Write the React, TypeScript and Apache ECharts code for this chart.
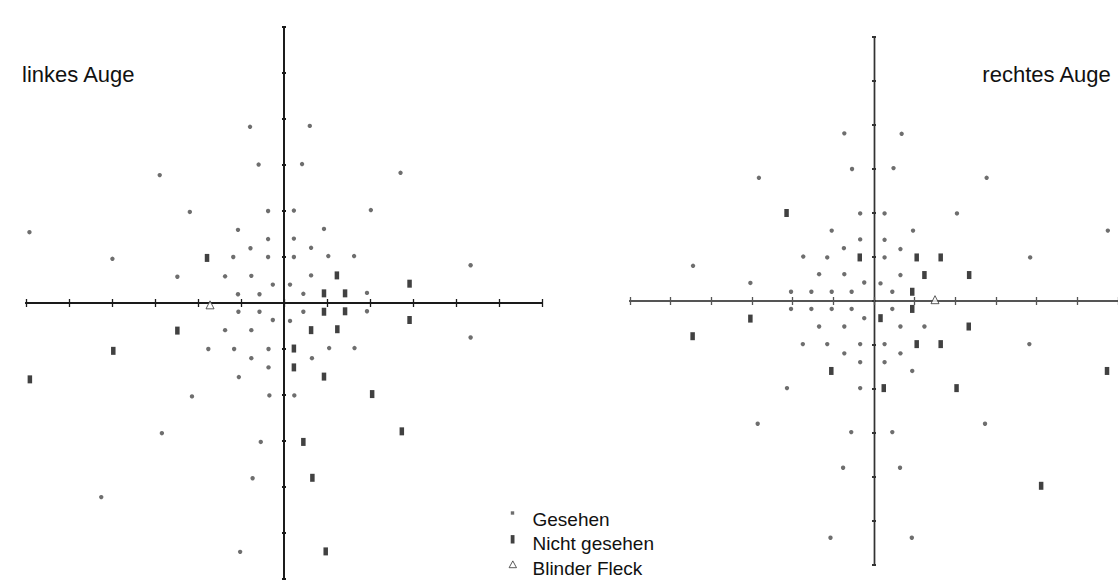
import React, { useEffect, useRef } from "react";
import * as echarts from "echarts";

// Values in degrees of visual field: [horizontal, vertical]
const leftSeen: [number, number][] = [
  [-7.9, 38.3], [6.0, 38.5], [-5.9, 30.1], [4.2, 30.2], [-28.9, 27.8], [27.1, 28.3],
  [-21.9, 19.8], [-3.7, 20.0], [2.3, 20.1], [20.2, 20.2], [-59.2, 15.4], [-10.7, 15.9],
  [9.3, 16.1], [-3.7, 13.9], [2.3, 14.0], [-7.8, 11.9], [6.3, 12.0], [-39.9, 9.6],
  [-11.8, 10.0], [-3.7, 10.0], [2.3, 10.0], [10.3, 10.2], [16.3, 10.2], [43.4, 8.2],
  [-24.8, 5.7], [-13.7, 5.8], [-7.6, 5.9], [6.3, 6.0], [-2.6, 4.0], [1.4, 4.0],
  [-10.7, 1.9], [-5.7, 1.9], [4.5, 2.0], [19.3, 2.2], [-10.6, -1.9], [-5.7, -1.9],
  [4.5, -1.9], [19.3, -1.8], [-2.6, -3.7], [1.4, -3.9], [-13.7, -5.9], [-7.6, -5.9],
  [43.4, -7.5], [-17.6, -10.0], [-11.6, -10.0], [-3.6, -10.0], [10.5, -9.8], [16.4, -9.8],
  [-7.6, -12.0], [6.5, -12.0], [-3.6, -14.0], [-10.5, -16.1], [-21.4, -20.3], [-3.4, -20.1],
  [2.4, -20.1], [-28.4, -28.3], [-5.4, -30.2], [-7.3, -38.1], [-42.5, -42.2], [-10.2, -54.1],
];
const leftNotSeen: [number, number][] = [
  [-17.9, 9.8], [12.3, 6.0], [9.3, 2.1], [14.2, 2.1], [29.2, 4.2], [9.3, -1.9],
  [14.2, -1.8], [29.2, -3.7], [-24.8, -6.0], [6.3, -5.9], [12.4, -5.7], [-39.7, -10.4],
  [2.3, -9.9], [2.3, -14.0], [9.3, -16.0], [-59.1, -16.6], [20.5, -19.8], [27.4, -27.9],
  [4.5, -30.2], [6.6, -38.0], [9.7, -54.0],
];
const leftBlindSpot: [number, number][] = [[-17.2, -0.4]];

const rightSeen: [number, number][] = [
  [-7.3, 38.1], [6.8, 38.0], [-5.4, 30.0], [4.8, 30.2], [-28.3, 28.0], [27.7, 28.0],
  [-3.4, 19.9], [2.6, 19.9], [20.4, 19.9], [-10.4, 16.0], [9.6, 16.0], [57.5, 16.0],
  [-3.4, 14.0], [2.6, 13.9], [-7.4, 12.0], [6.5, 11.8], [-17.4, 10.1], [-11.5, 9.9],
  [2.6, 9.9], [38.4, 9.9], [-44.5, 8.0], [-13.5, 6.1], [-7.3, 6.1], [6.5, 5.9],
  [-30.4, 4.1], [-2.4, 4.2], [1.6, 4.0], [-20.4, 2.1], [-15.4, 2.1], [-10.4, 2.1],
  [-5.5, 2.1], [4.5, 2.1], [-20.4, -1.8], [-15.4, -1.8], [-10.4, -1.8], [-5.5, -1.8],
  [4.5, -1.8], [-2.4, -3.9], [-13.5, -5.8], [-7.3, -5.8], [6.5, -5.8], [12.4, -5.8],
  [-17.5, -9.8], [-11.5, -9.8], [-3.4, -9.8], [2.6, -9.8], [38.2, -9.8], [-7.3, -11.9],
  [6.5, -11.9], [-3.4, -13.9], [2.6, -13.9], [9.4, -15.9], [-21.4, -19.8], [-3.4, -19.8],
  [-28.6, -27.9], [27.3, -27.9], [-5.6, -29.8], [4.5, -29.8], [-7.6, -37.9], [6.4, -37.9],
  [-10.7, -53.8], [9.3, -53.8],
];
const rightNotSeen: [number, number][] = [
  [-21.5, 20.0], [-3.5, 9.9], [10.5, 9.9], [16.4, 9.9], [12.4, 5.9], [23.4, 5.9],
  [9.4, 2.1], [9.4, -1.8], [-30.4, -4.0], [1.6, -3.9], [-44.6, -8.0], [23.3, -5.8],
  [10.5, -9.8], [16.4, -9.8], [-10.5, -15.9], [57.3, -15.9], [2.4, -19.8], [20.3, -19.8],
  [41.1, -42.0],
];
const rightBlindSpot: [number, number][] = [[15.0, 0.3]];

const legendNames = ["Gesehen", "Nicht gesehen", "Blinder Fleck"];
const eyeLabels = ["linkes Auge", "rechtes Auge"];
const axisMin = -60;
const axisMax = 60;
const axisStep = 10;

const FONT = "'Liberation Sans', Arial, Helvetica, sans-serif";

function makeAxes(dim: "x" | "y", gridIndex: number, otherMain: number, color: string, width: number, tickLen: number) {
  const base = {
    type: "value",
    gridIndex,
    min: axisMin,
    max: axisMax,
    interval: axisStep,
    axisLabel: { show: false },
    splitLine: { show: false },
  };
  const line = { show: true, onZero: true, onZeroAxisIndex: otherMain, lineStyle: { color, width } };
  const tick = { show: true, length: tickLen, lineStyle: { color, width: dim === "x" ? 1.3 : 2 } };
  return [
    { ...base, position: dim === "x" ? "bottom" : "left", axisLine: line, axisTick: tick },
    { ...base, position: dim === "x" ? "top" : "right", axisLine: line, axisTick: tick },
  ];
}

export default function App() {
  const ref = useRef<HTMLDivElement>(null);
  useEffect(() => {
    if (!ref.current) return;
    const chart = echarts.init(ref.current, undefined, { renderer: "svg" });
    const seenStyle = { color: "#4a4a4a" };
    const notSeenStyle = { color: "#111" };
    const blindStyle = { color: "#fff", borderColor: "#333", borderWidth: 1 };
    const mk = (axisIdx: number, seen: any, notSeen: any, blind: any) => [
      { type: "scatter", name: legendNames[0], xAxisIndex: axisIdx, yAxisIndex: axisIdx, data: seen, symbol: "circle", symbolSize: 4.4, itemStyle: seenStyle, z: 5 },
      { type: "scatter", name: legendNames[1], xAxisIndex: axisIdx, yAxisIndex: axisIdx, data: notSeen, symbol: "rect", symbolSize: [4.5, 8], itemStyle: notSeenStyle, z: 5 },
      { type: "scatter", name: legendNames[2], xAxisIndex: axisIdx, yAxisIndex: axisIdx, data: blind, symbol: "triangle", symbolSize: 8, itemStyle: blindStyle, z: 5 },
    ];
    chart.setOption({
      animation: false,
      backgroundColor: "#ffffff",
      title: [
        { text: eyeLabels[0], left: 22, top: 63.5, padding: 0, textStyle: { fontSize: 22, fontWeight: "normal", color: "#111", fontFamily: FONT } },
        { text: eyeLabels[1], right: 6, top: 63.5, padding: 0, textStyle: { fontSize: 22, fontWeight: "normal", color: "#111", fontFamily: FONT } },
      ],
      legend: {
        orient: "vertical",
        left: 507,
        top: 509,
        height: 90,
        padding: 0,
        itemGap: 4.5,
        itemWidth: 20,
        itemHeight: 20,
        selectedMode: false,
        textStyle: { fontSize: 19, color: "#111", fontFamily: FONT },
        data: [
          { name: legendNames[0], icon: "path://M0,0M20,20M3.3,2.3L6.7,2.3L6.7,5.7L3.3,5.7Z", itemStyle: seenStyle },
          { name: legendNames[1], icon: "path://M0,0M20,20M3.2,1.6L7,1.6L7,10L3.2,10Z", itemStyle: notSeenStyle },
          { name: legendNames[2], icon: "path://M0,0M20,20M5.3,2.4L9,9.2L1.6,9.2Z", itemStyle: blindStyle },
        ],
      },
      grid: [
        { left: 26, top: 27, width: 516, height: 552 },
        { left: 630, top: 37, width: 492, height: 528 },
      ],
      xAxis: [
        ...makeAxes("x", 0, 0, "#1a1a1a", 2, 4),
        ...makeAxes("x", 1, 2, "#555", 2.2, 4),
      ],
      yAxis: [
        ...makeAxes("y", 0, 0, "#1a1a1a", 1.8, 2),
        ...makeAxes("y", 1, 2, "#333", 1.4, 2),
      ],
      series: [
        ...mk(0, leftSeen, leftNotSeen, leftBlindSpot),
        ...mk(2, rightSeen, rightNotSeen, rightBlindSpot),
      ],
    });
    return () => chart.dispose();
  }, []);
  return <div ref={ref} style={{ position: "absolute", left: 0, top: 0, width: 1118, height: 580 }} />;
}
